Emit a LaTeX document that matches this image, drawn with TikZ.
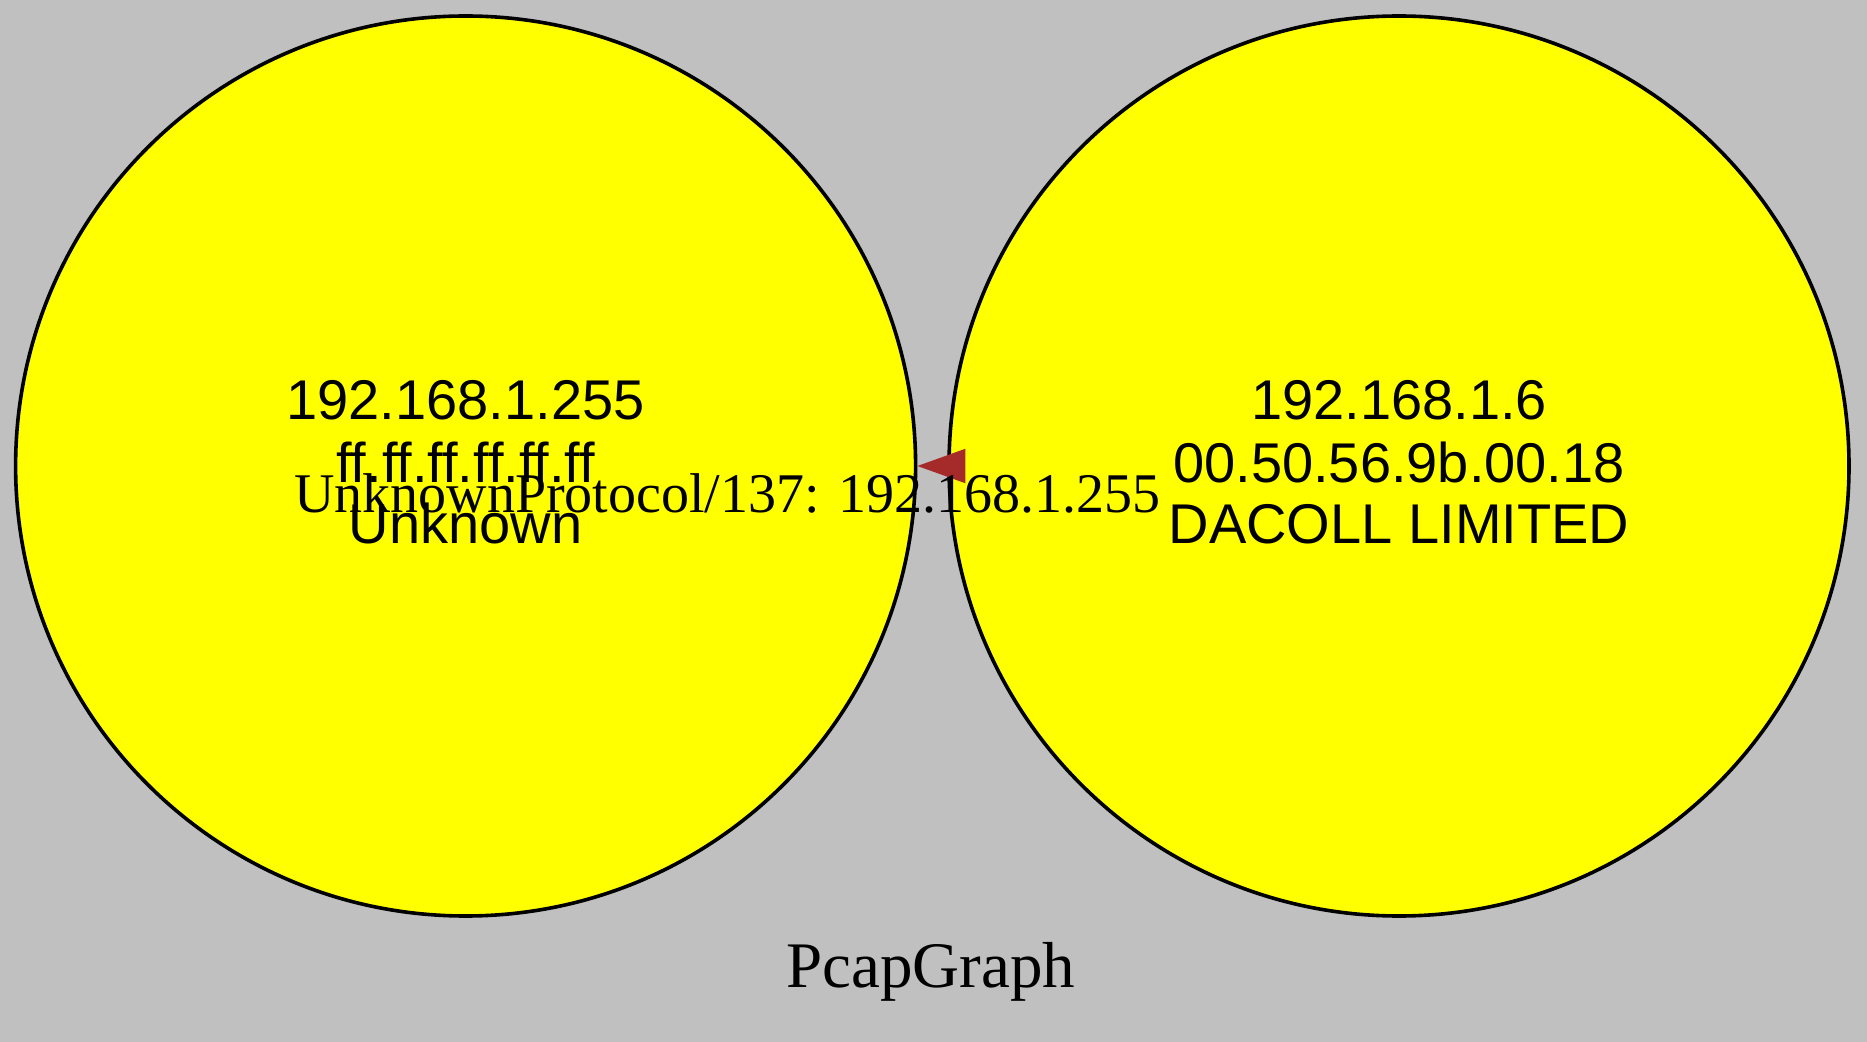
\documentclass[tikz,border=0pt]{standalone}
\usepackage{fontspec}
\setmainfont{Liberation Serif}
\newfontfamily\arialf{Liberation Sans}
\usetikzlibrary{arrows.meta}
\definecolor{bggray}{HTML}{C0C0C0}
\definecolor{edgebrown}{HTML}{A52A2A}
\definecolor{hostyellow}{RGB}{255,255,0}
\begin{document}
\begin{tikzpicture}[x=0.5pt,y=-0.5pt,
  host/.style={circle,draw=black,line width=1.8pt,fill=hostyellow,minimum size=450pt,inner sep=0pt},
  hosttext/.style={anchor=base,font=\arialf\fontsize{28}{30}\selectfont,inner sep=0pt},
  edgelabel/.style={anchor=base,font=\fontsize{28}{30}\selectfont,inner sep=0pt},
  titletext/.style={anchor=base,font=\fontsize{32.5}{36}\selectfont,inner sep=0pt},
  conn/.style={draw=edgebrown,fill=edgebrown,line width=1pt,-{Triangle[length=24pt,width=17pt]}}
]
\fill[bggray] (0,0) rectangle (1867,1042);
\useasboundingbox (0,0) rectangle (1867,1042);

\node[host] (L) at (465.6,466) {};
\node[host] (R) at (1399,466) {};

\node[hosttext] (l1) at (465.6,420) {192.168.1.255};
\node[hosttext] (l2) at (465.6,482) {ff.ff.ff.ff.ff.ff};
\node[hosttext] (l3) at (465.6,543) {Unknown};

\node[hosttext] (r1) at (1399,420) {192.168.1.6};
\node[hosttext] (r2) at (1399,482) {00.50.56.9b.00.18};
\node[hosttext] (r3) at (1399,543) {DACOLL LIMITED};

\coordinate (eb) at ([xshift=7pt]R.west);
\draw[conn] (eb) -- (L.east);

\node[edgelabel] (el) at (727.5,512) {UnknownProtocol/137: 192.168.1.255};

\node[titletext] (title) at (931,987) {PcapGraph};
\end{tikzpicture}
\end{document}
